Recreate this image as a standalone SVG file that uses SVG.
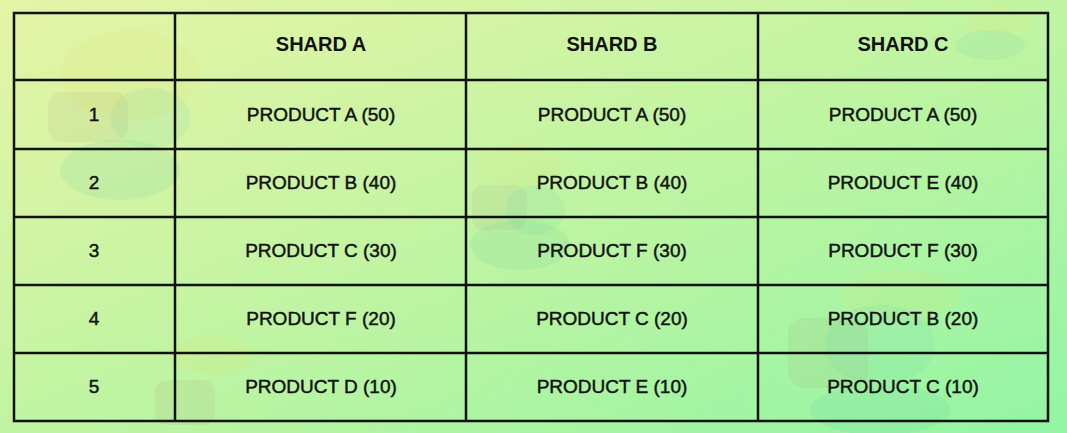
<svg xmlns="http://www.w3.org/2000/svg" width="1067" height="433" viewBox="0 0 1067 433">
<defs>
<linearGradient id="bg" x1="0" y1="0" x2="1" y2="1">
<stop offset="0" stop-color="#e6f4a6"/>
<stop offset="0.5" stop-color="#c0f4a2"/>
<stop offset="1" stop-color="#92f5a4"/>
</linearGradient>
<style>
.grid{stroke:#111;stroke-width:2.5;fill:none}
.hd{font-family:"Liberation Sans",Arial,sans-serif;font-weight:bold;font-size:20px;fill:#111;text-anchor:middle}
.cell{font-family:"Liberation Sans",Arial,sans-serif;font-size:19px;fill:#111;stroke:#111;stroke-width:0.45;text-anchor:middle}
.blob{opacity:0.12}
</style>
</defs>
<rect width="1067" height="433" fill="url(#bg)"/>
<g id="background-decor">
<ellipse class="blob" cx="130" cy="75" rx="70" ry="45" fill="#f0e060"/>
<rect class="blob" x="48" y="92" width="80" height="50" rx="14" fill="#b0a070"/>
<ellipse class="blob" cx="150" cy="118" rx="40" ry="30" fill="#60d0b0"/>
<ellipse class="blob" cx="120" cy="170" rx="60" ry="30" fill="#50c8a0"/>
<ellipse class="blob" cx="520" cy="165" rx="40" ry="22" fill="#f0e060"/>
<rect class="blob" x="472" y="185" width="55" height="45" rx="12" fill="#b0a070"/>
<ellipse class="blob" cx="535" cy="210" rx="30" ry="25" fill="#60d0b0"/>
<ellipse class="blob" cx="520" cy="245" rx="50" ry="25" fill="#50c8a0"/>
<ellipse class="blob" cx="900" cy="295" rx="60" ry="25" fill="#f0e060"/>
<rect class="blob" x="788" y="318" width="80" height="70" rx="16" fill="#b0a070"/>
<ellipse class="blob" cx="880" cy="345" rx="55" ry="40" fill="#60d0b0"/>
<ellipse class="blob" cx="880" cy="410" rx="70" ry="25" fill="#50c8a0"/>
<ellipse class="blob" cx="1000" cy="20" rx="30" ry="15" fill="#f0e060"/>
<ellipse class="blob" cx="990" cy="45" rx="35" ry="15" fill="#60d0b0"/>
<ellipse class="blob" cx="210" cy="355" rx="45" ry="18" fill="#f0e060"/>
<rect class="blob" x="155" y="380" width="60" height="45" rx="12" fill="#b0a070"/>
</g>
<g id="table-grid">
<rect class="grid" x="14" y="13" width="1034" height="408"/>
<line class="grid" x1="175" y1="13" x2="175" y2="421"/>
<line class="grid" x1="466" y1="13" x2="466" y2="421"/>
<line class="grid" x1="758" y1="13" x2="758" y2="421"/>
<line class="grid" x1="14" y1="80" x2="1048" y2="80"/>
<line class="grid" x1="14" y1="149" x2="1048" y2="149"/>
<line class="grid" x1="14" y1="217" x2="1048" y2="217"/>
<line class="grid" x1="14" y1="285" x2="1048" y2="285"/>
<line class="grid" x1="14" y1="353" x2="1048" y2="353"/>
</g>
<g id="header">
<text class="hd" x="321" y="51">SHARD A</text>
<text class="hd" x="612" y="51">SHARD B</text>
<text class="hd" x="903" y="51">SHARD C</text>
</g>
<g id="row1">
<text class="cell" x="94" y="121">1</text>
<text class="cell" x="321" y="121">PRODUCT A (50)</text>
<text class="cell" x="612" y="121">PRODUCT A (50)</text>
<text class="cell" x="903" y="121">PRODUCT A (50)</text>
</g>
<g id="row2">
<text class="cell" x="94" y="189">2</text>
<text class="cell" x="321" y="189">PRODUCT B (40)</text>
<text class="cell" x="612" y="189">PRODUCT B (40)</text>
<text class="cell" x="903" y="189">PRODUCT E (40)</text>
</g>
<g id="row3">
<text class="cell" x="94" y="257">3</text>
<text class="cell" x="321" y="257">PRODUCT C (30)</text>
<text class="cell" x="612" y="257">PRODUCT F (30)</text>
<text class="cell" x="903" y="257">PRODUCT F (30)</text>
</g>
<g id="row4">
<text class="cell" x="94" y="325">4</text>
<text class="cell" x="321" y="325">PRODUCT F (20)</text>
<text class="cell" x="612" y="325">PRODUCT C (20)</text>
<text class="cell" x="903" y="325">PRODUCT B (20)</text>
</g>
<g id="row5">
<text class="cell" x="94" y="393">5</text>
<text class="cell" x="321" y="393">PRODUCT D (10)</text>
<text class="cell" x="612" y="393">PRODUCT E (10)</text>
<text class="cell" x="903" y="393">PRODUCT C (10)</text>
</g>
</svg>
